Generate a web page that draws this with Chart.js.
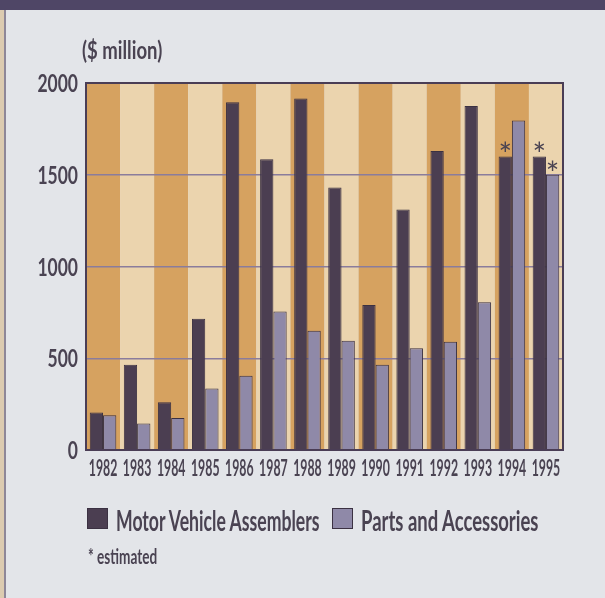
<!DOCTYPE html>
<html lang="en">
<head>
<meta charset="UTF-8">
<title>Motor vehicle investment</title>
<script src="https://cdn.jsdelivr.net/npm/chart.js"></script>
<style>
  * { margin: 0; padding: 0; box-sizing: border-box; }
  body { width: 605px; height: 598px; background: #e3e5e9; position: relative; overflow: hidden; font-family: Lato, sans-serif; font-weight: bold; color: #4a4352; }
  #topband { position: absolute; left: 0; top: 0; width: 605px; height: 10px; background: #4f4666; }
  #leftstrip { position: absolute; left: 0; top: 10px; width: 6px; height: 588px; background: #dccbb0; border-right: 2px solid #8e8798; }
  #chart { position: absolute; left: 0; top: 0; }
  .cond { position: absolute; white-space: nowrap; transform-origin: 0 0; }
  #unit { left: 82px; top: 34px; font-size: 25px; transform: scaleX(0.74); }
  #legend { position: absolute; left: 87px; top: 503px; }
  .lg-box { position: absolute; width: 21px; height: 21px; border: 1px solid #3b3142; }
  #note { left: 88px; top: 544px; font-size: 20px; transform: scaleX(0.68); }
</style>
</head>
<body>
<div id="topband"></div>
<div id="leftstrip"></div>
<canvas id="chart" width="605" height="598"></canvas>
<div class="cond" id="unit">($ million)</div>
<div id="legend"></div>
<div class="cond" id="note">* estimated</div>

<script>
  // data
  const years = ['1982','1983','1984','1985','1986','1987','1988','1989','1990','1991','1992','1993','1994','1995'];
  const assemblers = [205, 465, 260, 715, 1895, 1585, 1915, 1430, 790, 1310, 1630, 1875, 1600, 1600];
  const parts = [190, 145, 175, 335, 405, 755, 650, 595, 465, 555, 590, 805, 1795, 1500];
  // which values are estimates (marked with *)
  const assemblersEst = [0,0,0,0,0,0,0,0,0,0,0,0,1,1];
  const partsEst = [0,0,0,0,0,0,0,0,0,0,0,0,0,1];
  const yTicks = [0, 500, 1000, 1500, 2000];

  const textColor = '#4a4352';

  function condText(ctx, text, x, y, size, sx, align, baseline) {
    ctx.save();
    ctx.translate(x, y);
    ctx.scale(sx, 1);
    ctx.font = 'bold ' + size + 'px Lato';
    ctx.fillStyle = textColor;
    ctx.textAlign = align;
    ctx.textBaseline = baseline;
    ctx.fillText(text, 0, 0);
    ctx.restore();
  }

  // alternating column stripes behind everything
  const stripes = {
    id: 'stripes',
    beforeDraw(chart) {
      const { ctx, chartArea, scales } = chart;
      const w = (chartArea.right - chartArea.left) / years.length;
      ctx.save();
      years.forEach((y, i) => {
        const cx = scales.x.getPixelForValue(i);
        ctx.fillStyle = i % 2 === 0 ? '#d6a260' : '#ebd4ae';
        ctx.fillRect(cx - w / 2, chartArea.top, w, chartArea.bottom - chartArea.top);
      });
      ctx.restore();
    }
  };

  // frame, tick labels and asterisks
  const extras = {
    id: 'extras',
    afterDatasetsDraw(chart) {
      const { ctx, chartArea, scales } = chart;
      ctx.save();
      ctx.strokeStyle = '#4a3d55';
      ctx.lineWidth = 2;
      ctx.strokeRect(chartArea.left, chartArea.top, chartArea.right - chartArea.left, chartArea.bottom - chartArea.top);
      ctx.restore();

      yTicks.forEach(v => {
        condText(ctx, String(v), chartArea.left - 8, scales.y.getPixelForValue(v) + 1, 25, 0.7, 'right', 'middle');
      });
      years.forEach((yr, i) => {
        condText(ctx, yr, scales.x.getPixelForValue(i), chartArea.bottom + 8, 22, 0.56, 'center', 'top');
      });

      [assemblersEst, partsEst].forEach((flags, d) => {
        const meta = chart.getDatasetMeta(d);
        flags.forEach((f, i) => {
          if (!f) return;
          const bar = meta.data[i];
          ctx.save();
          ctx.font = '32px Lato';
          ctx.fillStyle = textColor;
          ctx.textAlign = 'center';
          ctx.textBaseline = 'alphabetic';
          ctx.fillText('*', bar.x, bar.y + 10);
          ctx.restore();
        });
      });
    }
  };

  const chart = new Chart(document.getElementById('chart'), {
    type: 'bar',
    data: {
      labels: years,
      datasets: [
        { label: 'Motor Vehicle Assemblers', data: assemblers, backgroundColor: '#4b3e51', borderColor: '#3b3142', borderWidth: 1 },
        { label: 'Parts and Accessories', data: parts, backgroundColor: '#8f89a8', borderColor: '#3b3142', borderWidth: 1 }
      ]
    },
    options: {
      responsive: false,
      animation: false,
      layout: { padding: { left: 86, right: 42, top: 83, bottom: 148 } },
      datasets: { bar: { categoryPercentage: 0.78, barPercentage: 1.0 } },
      plugins: { legend: { display: false }, tooltip: { enabled: false } },
      scales: {
        x: {
          grid: { display: false, drawTicks: false },
          border: { display: false },
          ticks: { display: false }
        },
        y: {
          min: 0, max: 2000,
          afterBuildTicks(scale) { scale.ticks = yTicks.map(v => ({ value: v })); },
          grid: { color: '#8a7c9c', lineWidth: 1.5, drawTicks: false },
          border: { display: false },
          ticks: { display: false }
        }
      }
    },
    plugins: [stripes, extras]
  });

  // legend built from the datasets
  const legend = document.getElementById('legend');
  const lgPos = [0, 245];
  const lgScale = [0.63, 0.66];
  chart.data.datasets.forEach((ds, i) => {
    const box = document.createElement('div');
    box.className = 'lg-box';
    box.style.left = lgPos[i] + 'px';
    box.style.top = '5px';
    box.style.background = ds.backgroundColor;
    legend.appendChild(box);
    const t = document.createElement('div');
    t.className = 'cond';
    t.textContent = ds.label;
    t.style.left = (lgPos[i] + 29) + 'px';
    t.style.top = '0px';
    t.style.fontSize = '28px';
    t.style.transform = 'scaleX(' + lgScale[i] + ')';
    legend.appendChild(t);
  });
</script>
</body>
</html>
